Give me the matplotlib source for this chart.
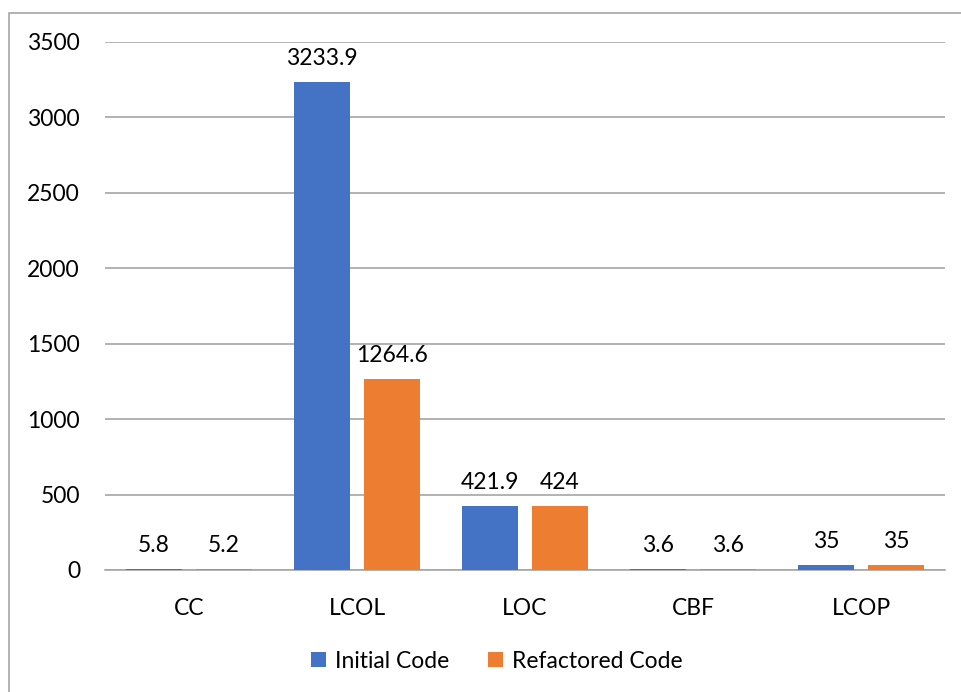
import numpy as np
import matplotlib.pyplot as plt
from matplotlib.patches import Rectangle

plt.rcParams['font.family'] = ['Lato', 'DejaVu Sans']

metrics = ['CC', 'LCOL', 'LOC', 'CBF', 'LCOP']
initial = [5.8, 3233.9, 421.9, 3.6, 35]
refactored = [5.2, 1264.6, 424, 3.6, 35]
y_ticks = [0, 500, 1000, 1500, 2000, 2500, 3000, 3500]

blue = '#4472C4'
orange = '#ED7D31'
fs = 16.5

fig = plt.figure(figsize=(9.62, 6.92), dpi=100)
ax = fig.add_axes([105 / 962, 1 - 570 / 692, 840 / 962, 528 / 692])

x = np.arange(len(metrics))
w = 56 / 168
gap = 14 / 168
b1 = ax.bar(x - (w + gap) / 2, initial, w, color=blue, label='Initial Code', zorder=3)
b2 = ax.bar(x + (w + gap) / 2, refactored, w, color=orange, label='Refactored Code', zorder=3)

for bars, vals in [(b1, initial), (b2, refactored)]:
    for rect, v in zip(bars, vals):
        ax.annotate(f'{v:g}', (rect.get_x() + rect.get_width() / 2, v),
                    xytext=(0, 17), textcoords='offset pixels',
                    ha='center', va='baseline', fontsize=fs, color='#000000')

ax.set_xlim(-0.5, len(metrics) - 0.5)
ax.set_ylim(0, 3500)
ax.set_yticks(y_ticks)
ax.set_xticks(x)
ax.set_xticklabels(metrics)
ax.tick_params(axis='both', length=0, labelsize=fs, colors='#000000')
ax.tick_params(axis='x', pad=20)
ax.tick_params(axis='y', pad=18)
ax.grid(axis='y', color='#A6A6A6', linewidth=1.2, zorder=0)
for s in ['top', 'right', 'left']:
    ax.spines[s].set_visible(False)
ax.spines['bottom'].set_color('#A6A6A6')
ax.spines['bottom'].set_linewidth(1.2)

ax.legend(loc='center', bbox_to_anchor=(497 / 962, 1 - 661 / 692),
          bbox_transform=fig.transFigure, ncol=2, frameon=False,
          fontsize=fs, handlelength=0.65, handleheight=0.65,
          handletextpad=0.4, columnspacing=1.7)

# outer chart border
fig.patches.append(Rectangle((9 / 962, -0.05), 1.1, 1 - 12.5 / 692 + 0.05,
                             transform=fig.transFigure, fill=False,
                             edgecolor='#A6A6A6', linewidth=1.2))

fig.savefig('out.png', dpi=100)
